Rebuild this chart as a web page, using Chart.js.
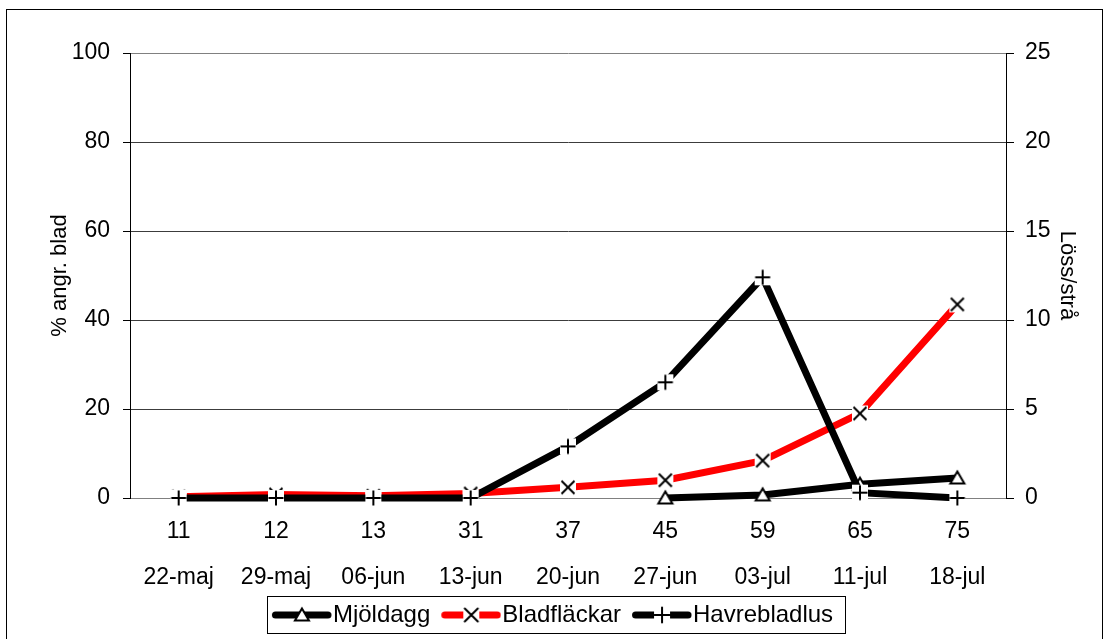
<!DOCTYPE html>
<html>
<head>
<meta charset="utf-8">
<script src="https://cdn.jsdelivr.net/npm/chart.js@4.4.0/dist/chart.umd.min.js"></script>
<style>
  html, body { margin: 0; padding: 0; background: #fff; }
  #wrap { width: 1104px; height: 639px; }
</style>
</head>
<body>
<div id="wrap"><canvas id="c" width="1104" height="639"></canvas></div>
<script>
// growth stage and date under each point
const stages = ['11', '12', '13', '31', '37', '45', '59', '65', '75'];
const dates = ['22-maj', '29-maj', '06-jun', '13-jun', '20-jun', '27-jun', '03-jul', '11-jul', '18-jul'];

// % angripna blad (left axis)
const mjoldagg = [null, null, null, null, null, 0, 0.7, 3.1, 4.5];
const bladflackar = [0.3, 0.8, 0.5, 1.0, 2.4, 4.0, 8.4, 19.0, 43.5];
// löss per strå (right axis)
const havrebladlus = [0, 0, 0, 0, 2.9, 6.5, 12.4, 0.3, 0];

const leftTicks = [0, 20, 40, 60, 80, 100];
const rightTicks = [0, 5, 10, 15, 20, 25];

const FONT = 'Liberation Sans, Arial, sans-serif';

// excel-like markers, drawn once into small canvases
// x0: where the line sample starts inside the canvas (legend only)
function makeIcon(kind, lineColor, w, x0) {
  const h = 20;
  const cv = document.createElement('canvas');
  cv.width = w; cv.height = h;
  const g = cv.getContext('2d');
  const cy = h / 2;
  let cx = w / 2;
  if (lineColor) {
    g.strokeStyle = lineColor;
    g.lineWidth = 7;
    g.lineCap = 'round';
    g.beginPath(); g.moveTo(x0 + 3.5, cy); g.lineTo(w - 4, cy); g.stroke();
    cx = (x0 + w) / 2;
  }
  g.strokeStyle = '#000';
  g.lineWidth = 2;
  g.fillStyle = '#fff';
  if (kind === 'tri') {
    g.beginPath();
    g.moveTo(cx, cy - 6.5); g.lineTo(cx + 7, cy + 5.5); g.lineTo(cx - 7, cy + 5.5);
    g.closePath(); g.fill(); g.stroke();
  } else {
    g.fillRect(cx - 8, cy - 8, 16, 16);
    g.beginPath();
    if (kind === 'x') {
      g.moveTo(cx - 6.5, cy - 6.5); g.lineTo(cx + 6.5, cy + 6.5);
      g.moveTo(cx + 6.5, cy - 6.5); g.lineTo(cx - 6.5, cy + 6.5);
    } else {
      g.moveTo(cx - 7.5, cy); g.lineTo(cx + 7.5, cy);
      g.moveTo(cx, cy - 7.5); g.lineTo(cx, cy + 7.5);
    }
    g.stroke();
  }
  return cv;
}

const LEGEND_FONT = 24;
const SAMPLE_W = 50;
const ICON_W = SAMPLE_W + LEGEND_FONT - 2;
const pointIcons = [makeIcon('tri', null, 20), makeIcon('x', null, 20), makeIcon('plus', null, 20)];
const legendIcons = [
  makeIcon('tri', '#000', ICON_W, 12),
  makeIcon('x', '#ff0000', ICON_W, 12),
  makeIcon('plus', '#000', ICON_W, 12)
];

// outer frame + box round the legend
const frames = {
  id: 'frames',
  afterDraw(chart) {
    const ctx = chart.ctx;
    ctx.save();
    ctx.strokeStyle = '#000';
    ctx.lineWidth = 1;
    ctx.strokeRect(6.5, 9.5, 1096, 640);
    const hb = chart.legend.legendHitBoxes;
    if (hb && hb.length) {
      const l = Math.min(...hb.map(b => b.left)) - 4;
      const r = Math.max(...hb.map(b => b.left + b.width)) + 12;
      const mid = hb[0].top + hb[0].height / 2;
      ctx.strokeRect(Math.round(l) + 0.5, Math.round(mid - 19) + 0.5, Math.round(r - l), 37);
    }
    ctx.restore();
  }
};

new Chart(document.getElementById('c'), {
  type: 'line',
  data: {
    labels: stages.map((s, i) => [s, dates[i]]),
    datasets: [
      {
        label: 'Mjöldagg', data: mjoldagg, yAxisID: 'y',
        borderColor: '#000', borderWidth: 7, pointStyle: pointIcons[0],
        pointRadius: 7, order: 1, clip: 12
      },
      {
        label: 'Bladfläckar', data: bladflackar, yAxisID: 'y',
        borderColor: '#ff0000', borderWidth: 7, pointStyle: pointIcons[1],
        pointRadius: 7, order: 2, clip: 12
      },
      {
        label: 'Havrebladlus', data: havrebladlus, yAxisID: 'y2',
        borderColor: '#000', borderWidth: 7, pointStyle: pointIcons[2],
        pointRadius: 7, order: 0, clip: 12
      }
    ]
  },
  options: {
    responsive: false,
    animation: false,
    devicePixelRatio: 1,
    layout: { padding: { left: 0, right: 0, top: 53, bottom: 2 } },
    plugins: {
      tooltip: { enabled: false },
      legend: {
        position: 'bottom',
        labels: {
          usePointStyle: true,
          pointStyleWidth: SAMPLE_W,
          padding: 10,
          color: '#000',
          font: { family: FONT, size: LEGEND_FONT },
          sort: (a, b) => a.datasetIndex - b.datasetIndex,
          generateLabels(chart) {
            const items = Chart.defaults.plugins.legend.labels.generateLabels(chart);
            items.forEach(it => { it.pointStyle = legendIcons[it.datasetIndex]; });
            return items;
          }
        }
      }
    },
    scales: {
      x: {
        offset: true,
        grid: { display: false, drawTicks: false },
        border: { color: '#808080', width: 1 },
        ticks: {
          color: '#000', padding: 11, maxRotation: 0, autoSkip: false,
          font: { family: FONT, size: 23, lineHeight: 2.0 }
        },
        afterFit(s) { s.height = 141 - s.chart.legend.height - 2; }
      },
      y: {
        position: 'left',
        min: 0, max: 100,
        afterBuildTicks(s) { s.ticks = leftTicks.map(v => ({ value: v })); },
        grid: {
          color: c => (c.tick && (c.tick.value === 100 || c.tick.value === 0)) ? '#808080' : '#3c3c3c',
          tickColor: '#000', tickLength: 7, lineWidth: 1
        },
        border: { color: '#000', width: 1 },
        ticks: { color: '#000', padding: 13, font: { family: FONT, size: 23 } },
        title: {
          display: true, text: '% angr. blad', color: '#000',
          font: { family: FONT, size: 22 }, padding: { top: 47, bottom: 0 }
        },
        afterFit(s) { s.width = 130; }
      },
      y2: {
        position: 'right',
        min: 0, max: 25,
        afterBuildTicks(s) { s.ticks = rightTicks.map(v => ({ value: v })); },
        grid: { drawOnChartArea: false, tickColor: '#000', tickLength: 8 },
        border: { color: '#000', width: 1 },
        ticks: { color: '#000', padding: 11, font: { family: FONT, size: 23 } },
        title: {
          display: true, text: 'Löss/strå', color: '#000',
          font: { family: FONT, size: 22 }, padding: { top: 24, bottom: 0 }
        },
        afterFit(s) { s.width = 98; }
      }
    }
  },
  plugins: [frames]
});
</script>
</body>
</html>
